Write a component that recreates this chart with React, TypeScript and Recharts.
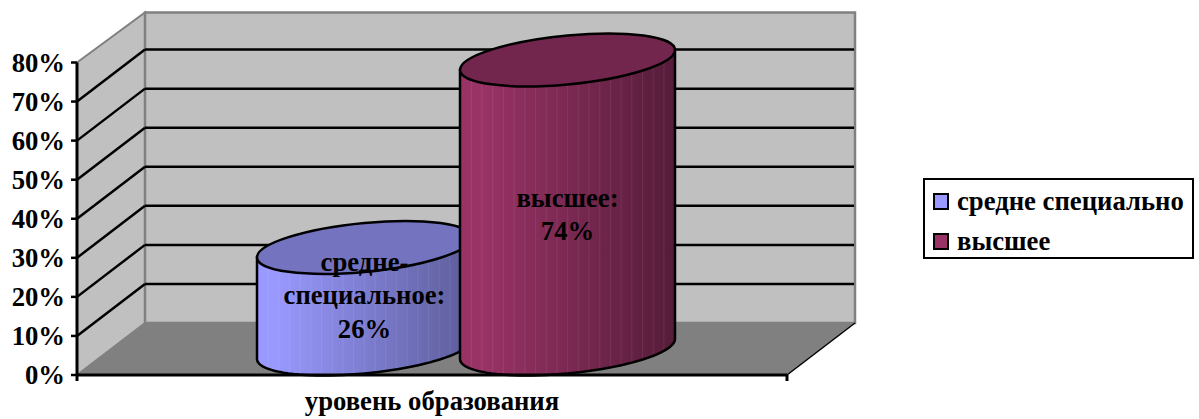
import { BarChart, Bar, XAxis, YAxis, Legend, usePlotArea } from 'recharts';

const categories = ['уровень образования'];
const secondaryValues = [26];
const higherValues = [74];
const yTicks = [0, 10, 20, 30, 40, 50, 60, 70, 80];
const secondaryLabel = ['средне-', 'специальное:', '26%'];
const higherLabel = ['высшее:', '74%'];

const data = categories.map((name, i) => ({
  name,
  secondary: secondaryValues[i],
  higher: higherValues[i],
}));

const FONT = '"Liberation Serif", "Times New Roman", serif';
const FONT_SIZE = 26.7;
const DEPTH_X = 68;
const DEPTH_Y = 52;
const TILT = 10;
const MINOR = 24.5;

// side walls, floor and gridlines of the fake 3D box
function Box3D() {
  const plot = usePlotArea();
  if (!plot) return null;
  const { x, y, width, height } = plot;
  const bottom = y + height;
  const right = x + width;
  const levels = yTicks.slice(1, -1).map((t) => bottom - (t / 80) * height);
  return (
    <g>
      <polygon
        points={`${x},${y} ${x + DEPTH_X},${y - DEPTH_Y + 2} ${x + DEPTH_X},${bottom - DEPTH_Y} ${x},${bottom}`}
        fill="#c0c0c0"
        stroke="#808080"
        strokeWidth={2}
      />
      <rect
        x={x + DEPTH_X}
        y={y - DEPTH_Y + 2}
        width={width}
        height={height - 2}
        fill="#c0c0c0"
        stroke="#808080"
        strokeWidth={2.5}
      />
      <polygon
        points={`${x},${bottom} ${x + DEPTH_X},${bottom - DEPTH_Y} ${right + DEPTH_X},${bottom - DEPTH_Y} ${right},${bottom}`}
        fill="#808080"
      />
      {levels.map((ly) => (
        <g key={ly}>
          <line x1={x} y1={ly} x2={x + DEPTH_X} y2={ly - DEPTH_Y} stroke="#000" strokeWidth={2.5} />
          <line x1={x + DEPTH_X} y1={ly - DEPTH_Y} x2={right + DEPTH_X - 1} y2={ly - DEPTH_Y} stroke="#000" strokeWidth={2.5} />
        </g>
      ))}
      <line x1={right} y1={bottom} x2={right + DEPTH_X} y2={bottom - DEPTH_Y} stroke="#000" strokeWidth={1.5} />
      <line x1={right} y1={bottom} x2={right} y2={bottom + 6} stroke="#000" strokeWidth={3} />
      <line x1={x} y1={bottom} x2={x} y2={bottom + 6} stroke="#000" strokeWidth={3} />
    </g>
  );
}

function Cylinder(props: any) {
  const { x, y, width, height, gradientId, topFill } = props;
  const a = width / 2;
  const cx = x + a + DEPTH_X / 2;
  const top = y - DEPTH_Y / 2;
  const base = top + height;
  const arc: string[] = [];
  for (let i = 0; i <= 48; i++) {
    const t = Math.PI - (i / 48) * Math.PI;
    arc.push(`L${cx + a * Math.cos(t)},${base + MINOR * Math.sin(t) - TILT * Math.cos(t)}`);
  }
  const side = `M${cx - a},${top + TILT} ${arc.join(' ')} L${cx + a},${top - TILT} Z`;
  return (
    <g>
      <path d={side} fill={`url(#${gradientId})`} />
      <path d={side} fill="url(#strips)" stroke="#000" strokeWidth={2.5} />
      <ellipse
        cx={0}
        cy={0}
        rx={1}
        ry={1}
        transform={`matrix(${a},${-TILT},0,${MINOR},${cx},${top})`}
        fill={topFill}
        stroke="#000"
        strokeWidth={2.5}
        vectorEffect="non-scaling-stroke"
      />
    </g>
  );
}

function barLabel(lines: string[], shiftY: number) {
  return (props: any) => {
    const { x, y, width, height } = props;
    const cx = x + width / 2 + DEPTH_X / 2;
    const cy = y - DEPTH_Y / 2 + height / 2 + shiftY;
    const step = 33.5;
    return (
      <g>
        {lines.map((line, i) => (
          <text
            key={line}
            x={cx}
            y={cy + (i - (lines.length - 1) / 2) * step}
            textAnchor="middle"
            dominantBaseline="central"
            fontFamily={FONT}
            fontWeight="bold"
            fontSize={FONT_SIZE}
            fill="#000"
          >
            {line}
          </text>
        ))}
      </g>
    );
  };
}

function LegendBox({ payload }: any) {
  return (
    <div
      style={{
        boxSizing: 'border-box',
        width: 271,
        height: 81,
        background: '#fff',
        border: '2px solid #000',
        fontFamily: FONT,
        fontWeight: 'bold',
        fontSize: FONT_SIZE,
        color: '#000',
        paddingTop: 2,
      }}
    >
      {(payload || []).map((item: any) => (
        <div key={item.value} style={{ display: 'flex', alignItems: 'center', height: 39.5, paddingLeft: 8, whiteSpace: 'nowrap' }}>
          <span
            style={{
              boxSizing: 'border-box',
              display: 'inline-block',
              width: 16,
              height: 17,
              background: item.color,
              border: '2px solid #000',
              marginRight: 8,
            }}
          />
          {item.value}
        </div>
      ))}
    </div>
  );
}

export default function App() {
  const tickStyle = { fontFamily: FONT, fontWeight: 'bold', fontSize: FONT_SIZE, fill: '#000' };
  return (
    <div style={{ position: 'absolute', left: 0, top: 0, width: 1199, height: 419 }}>
      <BarChart
        width={1199}
        height={419}
        data={data}
        margin={{ top: 62.5, right: 412, bottom: 14, left: 0 }}
        barSize={215}
        barGap={-12}
      >
        <defs>
          <linearGradient id="cylBlue" x1="0" y1="0" x2="1" y2="0">
            <stop offset="0.08" stopColor="#9999ff" />
            <stop offset="1" stopColor="#5c5c99" />
          </linearGradient>
          <linearGradient id="cylPurple" x1="0" y1="0" x2="1" y2="0">
            <stop offset="0.1" stopColor="#993366" />
            <stop offset="1" stopColor="#551c39" />
          </linearGradient>
          <pattern id="strips" width="10.7" height="10" patternUnits="userSpaceOnUse">
            <rect x="0" y="0" width="1" height="10" fill="#fff" fillOpacity="0.07" />
          </pattern>
        </defs>
        <Box3D />
        <XAxis
          dataKey="name"
          axisLine={{ stroke: '#000', strokeWidth: 3 }}
          tickLine={false}
          tick={tickStyle}
          tickMargin={10}
          height={30}
        />
        <YAxis
          type="number"
          domain={[0, 80]}
          ticks={yTicks}
          interval={0}
          width={77}
          axisLine={{ stroke: '#000', strokeWidth: 3 }}
          tickLine={{ stroke: '#000', strokeWidth: 2.5 }}
          tickSize={6}
          tickMargin={6}
          tick={tickStyle}
          tickFormatter={(v) => `${v}%`}
        />
        <Legend
          layout="vertical"
          align="center"
          verticalAlign="middle"
          itemSorter={null}
          wrapperStyle={{ left: 923, top: 178, width: 271 }}
          content={<LegendBox />}
        />
        <Bar
          dataKey="secondary"
          name="средне специально"
          fill="#9999ff"
          isAnimationActive={false}
          shape={(p: any) => <Cylinder {...p} gradientId="cylBlue" topFill="#7373bf" />}
          label={barLabel(secondaryLabel, -3)}
        />
        <Bar
          dataKey="higher"
          name="высшее"
          fill="#993366"
          isAnimationActive={false}
          shape={(p: any) => <Cylinder {...p} gradientId="cylPurple" topFill="#73264d" />}
          label={barLabel(higherLabel, 10)}
        />
      </BarChart>
    </div>
  );
}
